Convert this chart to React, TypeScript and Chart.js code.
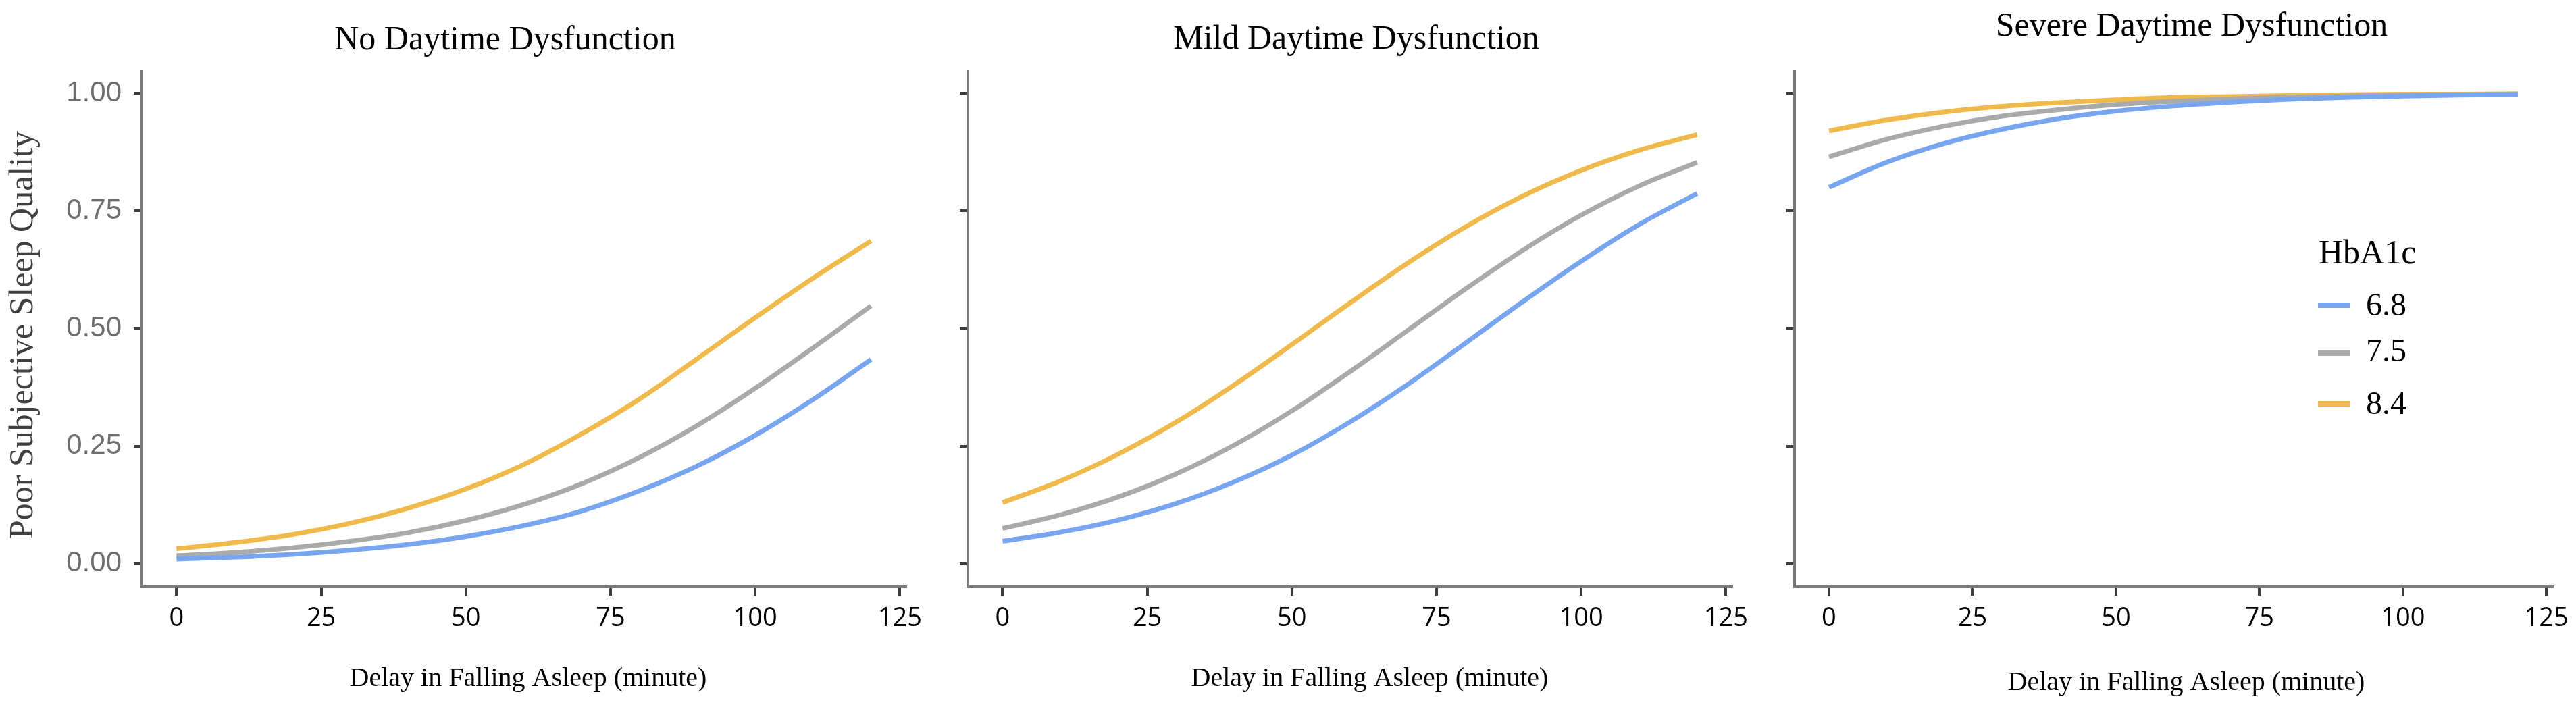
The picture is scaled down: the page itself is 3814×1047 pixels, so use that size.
import React, { useEffect, useRef } from 'react';
import { Chart, registerables } from 'chart.js';

Chart.register(...registerables);

// ---------------- data ----------------
const MINUTES = [0, 10, 20, 30, 40, 50, 60, 70, 80, 90, 100, 110, 120];
const X_TICKS = [0, 25, 50, 75, 100, 125];
const X_TICK_LABELS = ['0', '25', '50', '75', '100', '125'];
const Y_TICKS = [0, 0.25, 0.5, 0.75, 1];
const Y_TICK_LABELS = ['0.00', '0.25', '0.50', '0.75', '1.00'];
const HBA1C_LEVELS = ['6.8', '7.5', '8.4'];
const PANEL_TITLES = ['No Daytime Dysfunction', 'Mild Daytime Dysfunction', 'Severe Daytime Dysfunction'];
const X_TITLE = 'Delay in Falling Asleep (minute)';
const Y_TITLE = 'Poor Subjective Sleep Quality';
const LEGEND_TITLE = 'HbA1c';

// No daytime dysfunction
const NONE_68 = [0.010, 0.014, 0.020, 0.029, 0.041, 0.058, 0.081, 0.112, 0.155, 0.208, 0.273, 0.349, 0.434];
const NONE_75 = [0.017, 0.024, 0.034, 0.048, 0.066, 0.092, 0.126, 0.170, 0.226, 0.294, 0.373, 0.459, 0.548];
const NONE_84 = [0.032, 0.045, 0.062, 0.086, 0.118, 0.159, 0.211, 0.276, 0.350, 0.436, 0.523, 0.607, 0.686];
// Mild daytime dysfunction
const MILD_68 = [0.048, 0.067, 0.093, 0.128, 0.174, 0.231, 0.301, 0.381, 0.469, 0.558, 0.643, 0.721, 0.787];
const MILD_75 = [0.075, 0.104, 0.142, 0.191, 0.252, 0.325, 0.408, 0.496, 0.584, 0.667, 0.741, 0.803, 0.853];
const MILD_84 = [0.130, 0.176, 0.233, 0.301, 0.380, 0.466, 0.554, 0.639, 0.716, 0.782, 0.836, 0.879, 0.912];
// Severe daytime dysfunction
const SEVERE_68 = [0.800, 0.853, 0.893, 0.923, 0.946, 0.962, 0.973, 0.981, 0.987, 0.991, 0.994, 0.996, 0.997];
const SEVERE_75 = [0.865, 0.902, 0.930, 0.951, 0.965, 0.976, 0.983, 0.988, 0.992, 0.994, 0.996, 0.997, 0.998];
const SEVERE_84 = [0.920, 0.943, 0.960, 0.972, 0.980, 0.986, 0.991, 0.993, 0.995, 0.997, 0.998, 0.998, 0.999];

// ---------------- styling / layout ----------------
const COLORS = ['#78A5F0', '#AAAAAA', '#F0B94B'];
const PAGE_W = 3814;
const PAGE_H = 1047;
const AREA_TOP = 106;
const AREA_BOTTOM = 869;
const SERIF = '"Liberation Serif", "Times New Roman", serif';

type Panel = {
  left: number;
  width: number;
  areaLeft: number;
  areaRight: number;
  titleX: number;
  titleY: number;
  xTitleX: number;
  xTitleY: number;
  yLabels: boolean;
  legend: boolean;
  series: number[][];
  title: string;
};

const PANELS: Panel[] = [
  { left: 0, width: 1380, areaLeft: 210, areaRight: 1341, titleX: 748, titleY: 73, xTitleX: 782, xTitleY: 1016, yLabels: true, legend: false, series: [NONE_68, NONE_75, NONE_84], title: PANEL_TITLES[0] },
  { left: 1380, width: 1220, areaLeft: 1433, areaRight: 2564, titleX: 2008, titleY: 72, xTitleX: 2028, xTitleY: 1016, yLabels: false, legend: false, series: [MILD_68, MILD_75, MILD_84], title: PANEL_TITLES[1] },
  { left: 2600, width: 1214, areaLeft: 2657, areaRight: 3788, titleX: 3245, titleY: 53, xTitleX: 3237, xTitleY: 1022, yLabels: false, legend: true, series: [SEVERE_68, SEVERE_75, SEVERE_84], title: PANEL_TITLES[2] },
];

function makeTextPlugin(p: Panel, idx: number) {
  return {
    id: 'panelText' + idx,
    afterDraw(chart: any) {
      const ctx: CanvasRenderingContext2D = chart.ctx;
      const ox = p.left;
      ctx.save();
      // panel title
      ctx.fillStyle = '#000';
      ctx.font = `50px ${SERIF}`;
      ctx.textAlign = 'center';
      ctx.textBaseline = 'alphabetic';
      ctx.fillText(p.title, p.titleX - ox, p.titleY);
      // x axis title
      ctx.font = `40px ${SERIF}`;
      ctx.fillText(X_TITLE, p.xTitleX - ox, p.xTitleY);
      // y axis title
      if (p.yLabels) {
        ctx.save();
        ctx.translate(48 - ox, 496);
        ctx.rotate(-Math.PI / 2);
        ctx.fillStyle = '#404040';
        ctx.font = `50px ${SERIF}`;
        ctx.textAlign = 'center';
        ctx.fillText(Y_TITLE, 0, 0);
        ctx.restore();
      }
      // legend
      if (p.legend) {
        ctx.fillStyle = '#000';
        ctx.textAlign = 'left';
        ctx.font = `50px ${SERIF}`;
        ctx.fillText(LEGEND_TITLE, 3433 - ox, 390);
        const rows = [452, 523, 598];
        const bases = [467, 535, 613];
        chart.data.datasets.forEach((ds: any, i: number) => {
          ctx.strokeStyle = ds.borderColor;
          ctx.lineWidth = 8;
          ctx.lineCap = 'butt';
          ctx.beginPath();
          ctx.moveTo(3432 - ox, rows[i]);
          ctx.lineTo(3480 - ox, rows[i]);
          ctx.stroke();
          ctx.fillStyle = '#000';
          ctx.font = `48px ${SERIF}`;
          ctx.fillText(ds.label, 3503 - ox, bases[i]);
        });
      }
      ctx.restore();
    },
  };
}

function PanelChart({ p, idx }: { p: Panel; idx: number }) {
  const ref = useRef<HTMLCanvasElement | null>(null);
  useEffect(() => {
    if (!ref.current) return;
    const yWidth = p.areaLeft - p.left;
    const rightPad = p.left + p.width - p.areaRight;
    const chart = new Chart(ref.current, {
      type: 'line',
      data: {
        datasets: HBA1C_LEVELS.map((lvl, i) => ({
          label: lvl,
          data: MINUTES.map((m, j) => ({ x: m, y: p.series[i][j] })),
          borderColor: COLORS[i],
          backgroundColor: COLORS[i],
          borderWidth: 7,
          pointRadius: 0,
          pointHoverRadius: 0,
          cubicInterpolationMode: 'monotone' as const,
          fill: false,
        })),
      },
      options: {
        responsive: false,
        animation: false,
        devicePixelRatio: 1,
        events: [],
        layout: { padding: { top: AREA_TOP, right: rightPad, bottom: 0, left: 0 } },
        plugins: {
          legend: { display: false },
          tooltip: { enabled: false },
          title: { display: false },
        },
        scales: {
          x: {
            type: 'linear',
            min: -6,
            max: 126,
            afterBuildTicks: (s: any) => {
              s.ticks = X_TICKS.map((v) => ({ value: v }));
            },
            afterFit: (s: any) => {
              s.height = PAGE_H - AREA_BOTTOM;
            },
            grid: { drawOnChartArea: false, drawTicks: true, tickLength: 13, color: '#3d3d3d', lineWidth: 4 },
            border: { display: true, color: '#7a7a7a', width: 4 },
            ticks: {
              autoSkip: false,
              maxRotation: 0,
              padding: 11,
              color: '#000',
              font: { family: '"Open Sans"', size: 38 },
              labelOffset: (c: any) => (c.index === X_TICKS.length - 1 ? -19 : 0),
              callback: (_v: any, i: number) => X_TICK_LABELS[i],
            },
          },
          y: {
            type: 'linear',
            min: -0.049,
            max: 1.046,
            afterBuildTicks: (s: any) => {
              s.ticks = Y_TICKS.map((v) => ({ value: v }));
            },
            afterFit: (s: any) => {
              s.width = yWidth;
            },
            grid: { drawOnChartArea: false, drawTicks: true, tickLength: 12, color: '#3d3d3d', lineWidth: 4 },
            border: { display: true, color: '#7a7a7a', width: 4 },
            ticks: {
              display: p.yLabels,
              padding: 18,
              color: '#6e6e6e',
              font: { family: '"Liberation Sans", Arial, sans-serif', size: 42 },
              callback: (_v: any, i: number) => Y_TICK_LABELS[i],
            },
          },
        },
      },
      plugins: [makeTextPlugin(p, idx)],
    });
    return () => chart.destroy();
  }, [p, idx]);
  return (
    <canvas
      ref={ref}
      width={p.width}
      height={PAGE_H}
      style={{ position: 'absolute', left: p.left, top: 0, width: p.width, height: PAGE_H }}
    />
  );
}

export default function App() {
  useEffect(() => {
    document.body.style.margin = '0';
    document.body.style.background = '#fff';
  }, []);
  return (
    <div style={{ position: 'relative', width: PAGE_W, height: PAGE_H, background: '#fff', overflow: 'hidden' }}>
      {PANELS.map((p, i) => (
        <PanelChart key={i} p={p} idx={i} />
      ))}
    </div>
  );
}
